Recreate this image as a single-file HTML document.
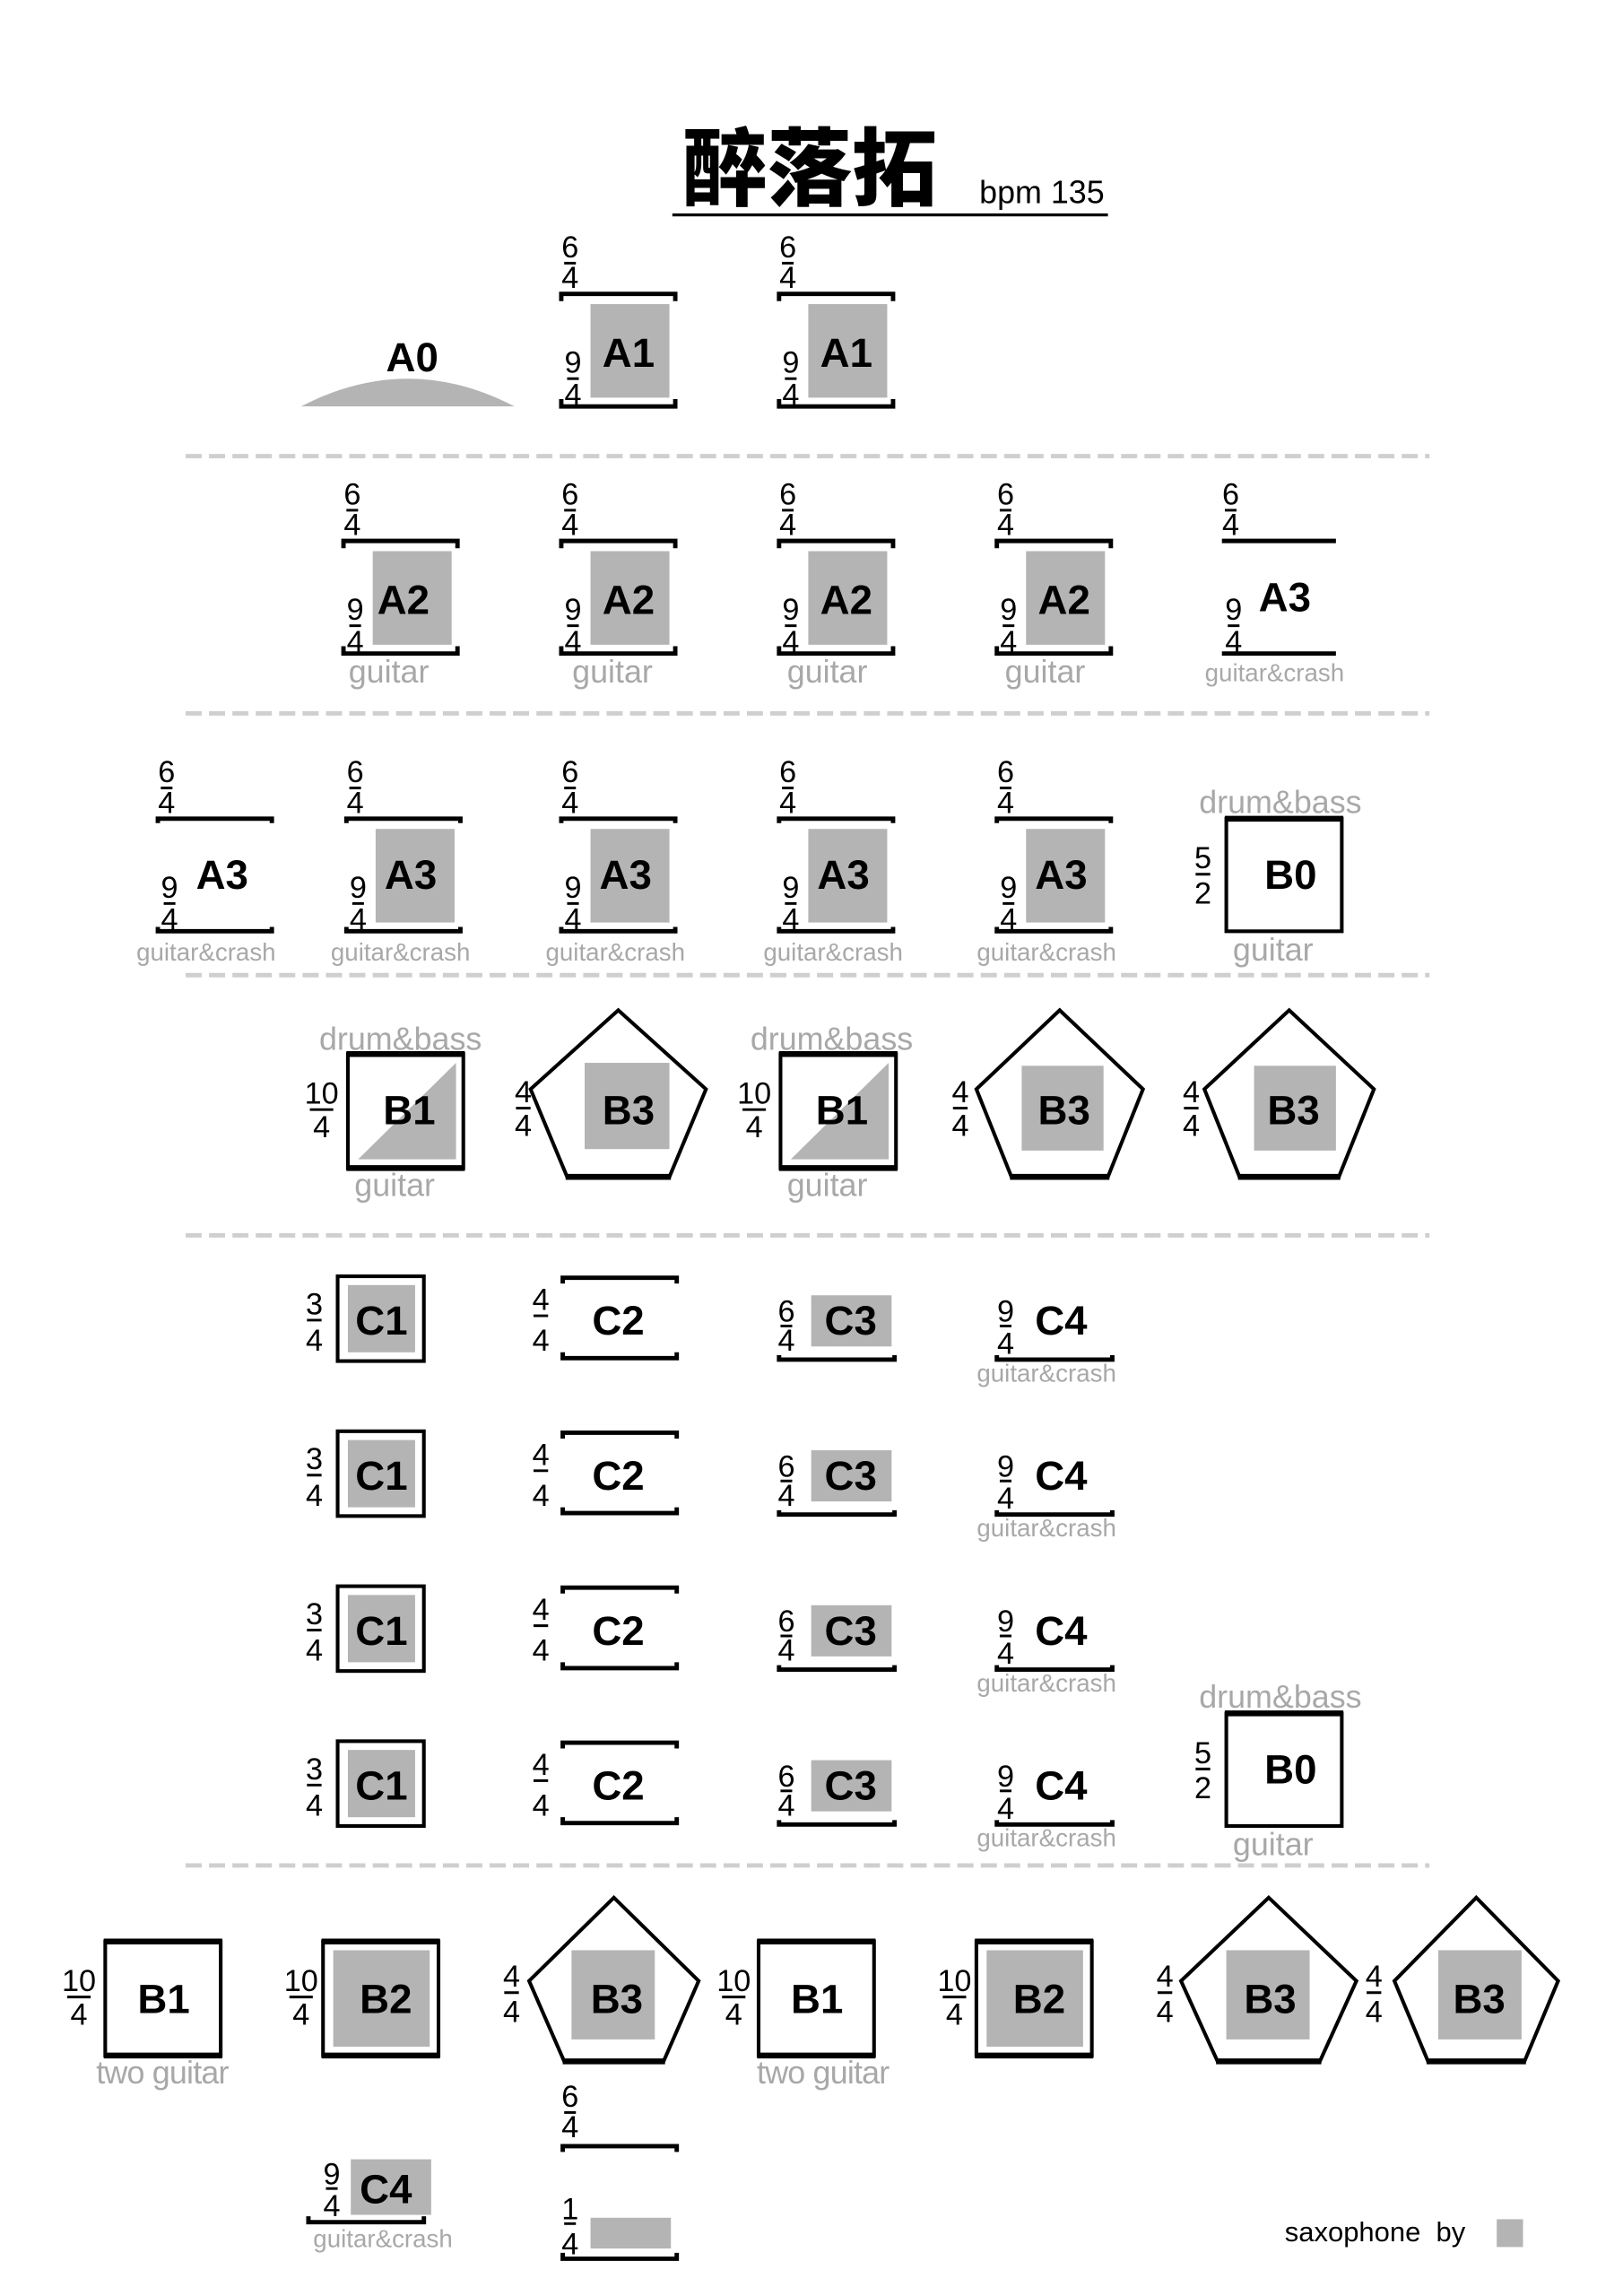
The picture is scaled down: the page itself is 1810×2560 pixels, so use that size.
<!DOCTYPE html>
<html><head><meta charset="utf-8"><style>
html,body{margin:0;padding:0;background:#fff}
svg{display:block}
.f{font-family:"Liberation Sans Narrow","Liberation Sans",sans-serif;font-size:21px;text-anchor:middle;fill:#000}
.fl{stroke:#000;stroke-width:1.8}
.L{font-family:"Liberation Sans Narrow","Liberation Sans",sans-serif;font-weight:bold;font-size:28px;text-anchor:middle;fill:#000}
.br{fill:none;stroke:#000;stroke-width:3}
.g{fill:#b4b4b4}
.s{font-family:"Liberation Sans Narrow","Liberation Sans",sans-serif;font-size:22px;text-anchor:middle;fill:#a8a8a8}
.s2{font-family:"Liberation Sans Narrow","Liberation Sans",sans-serif;font-size:17px;text-anchor:middle;fill:#a8a8a8}
.d{stroke:#cfcfcf;stroke-width:3;stroke-dasharray:11 5}
.bx{fill:#fff;stroke:#000;stroke-width:2.5}
</style></head><body>
<svg width="1810" height="2560" viewBox="0 0 1110.4 1570.5" xmlns="http://www.w3.org/2000/svg">
<rect width="1110.4" height="1570.5" fill="#fff"/>
<text x="554" y="136" style="font-family:'Noto Sans CJK SC',sans-serif;font-weight:900;font-size:58px;text-anchor:middle">醉落拓</text>
<text x="670" y="139" style="font-family:'Liberation Sans',sans-serif;font-size:22px">bpm 135</text>
<line x1="460" y1="147" x2="758" y2="147" stroke="#000" stroke-width="2"/>
<line class="d" x1="127" y1="312" x2="978" y2="312"/>
<line class="d" x1="127" y1="488" x2="978" y2="488"/>
<line class="d" x1="127" y1="667" x2="978" y2="667"/>
<line class="d" x1="127" y1="845" x2="978" y2="845"/>
<line class="d" x1="127" y1="1276" x2="978" y2="1276"/>

<path d="M206,278 Q279,240 352,278 Z" fill="#b4b4b4"/>
<text x="282" y="254" class="L">A0</text>

<g transform="translate(383,201)"><text x="7" y="-25" class="f">6</text><line x1="3" x2="11" y1="-21" y2="-21" class="fl"/><text x="7" y="-4" class="f">4</text><path d="M1,5V0H79V5" class="br"/><rect x="21" y="7" width="54" height="64" class="g"/><text x="47" y="50" class="L">A1</text><text x="9" y="54" class="f">9</text><line x1="5" x2="13" y1="58" y2="58" class="fl"/><text x="9" y="76" class="f">4</text><path d="M1,72V77H79V72" class="br"/></g>
<g transform="translate(532,201)"><text x="7" y="-25" class="f">6</text><line x1="3" x2="11" y1="-21" y2="-21" class="fl"/><text x="7" y="-4" class="f">4</text><path d="M1,5V0H79V5" class="br"/><rect x="21" y="7" width="54" height="64" class="g"/><text x="47" y="50" class="L">A1</text><text x="9" y="54" class="f">9</text><line x1="5" x2="13" y1="58" y2="58" class="fl"/><text x="9" y="76" class="f">4</text><path d="M1,72V77H79V72" class="br"/></g>

<g transform="translate(234,370)"><text x="7" y="-25" class="f">6</text><line x1="3" x2="11" y1="-21" y2="-21" class="fl"/><text x="7" y="-4" class="f">4</text><path d="M1,5V0H79V5" class="br"/><rect x="21" y="7" width="54" height="64" class="g"/><text x="42" y="50" class="L">A2</text><text x="9" y="54" class="f">9</text><line x1="5" x2="13" y1="58" y2="58" class="fl"/><text x="9" y="76" class="f">4</text><path d="M1,72V77H79V72" class="br"/><text x="32" y="97" class="s">guitar</text></g>
<g transform="translate(383,370)"><text x="7" y="-25" class="f">6</text><line x1="3" x2="11" y1="-21" y2="-21" class="fl"/><text x="7" y="-4" class="f">4</text><path d="M1,5V0H79V5" class="br"/><rect x="21" y="7" width="54" height="64" class="g"/><text x="47" y="50" class="L">A2</text><text x="9" y="54" class="f">9</text><line x1="5" x2="13" y1="58" y2="58" class="fl"/><text x="9" y="76" class="f">4</text><path d="M1,72V77H79V72" class="br"/><text x="36" y="97" class="s">guitar</text></g>
<g transform="translate(532,370)"><text x="7" y="-25" class="f">6</text><line x1="3" x2="11" y1="-21" y2="-21" class="fl"/><text x="7" y="-4" class="f">4</text><path d="M1,5V0H79V5" class="br"/><rect x="21" y="7" width="54" height="64" class="g"/><text x="47" y="50" class="L">A2</text><text x="9" y="54" class="f">9</text><line x1="5" x2="13" y1="58" y2="58" class="fl"/><text x="9" y="76" class="f">4</text><path d="M1,72V77H79V72" class="br"/><text x="34" y="97" class="s">guitar</text></g>
<g transform="translate(681,370)"><text x="7" y="-25" class="f">6</text><line x1="3" x2="11" y1="-21" y2="-21" class="fl"/><text x="7" y="-4" class="f">4</text><path d="M1,5V0H79V5" class="br"/><rect x="21" y="7" width="54" height="64" class="g"/><text x="47" y="50" class="L">A2</text><text x="9" y="54" class="f">9</text><line x1="5" x2="13" y1="58" y2="58" class="fl"/><text x="9" y="76" class="f">4</text><path d="M1,72V77H79V72" class="br"/><text x="34" y="97" class="s">guitar</text></g>
<g transform="translate(835,370)"><text x="7" y="-25" class="f">6</text><line x1="3" x2="11" y1="-21" y2="-21" class="fl"/><text x="7" y="-4" class="f">4</text><path d="M1,0H79" class="br"/><text x="44" y="48" class="L">A3</text><text x="9" y="54" class="f">9</text><line x1="5" x2="13" y1="58" y2="58" class="fl"/><text x="9" y="76" class="f">4</text><path d="M1,77H79" class="br"/><text x="37" y="96" class="s2">guitar&amp;crash</text></g>

<g transform="translate(107,560)"><text x="7" y="-25" class="f">6</text><line x1="3" x2="11" y1="-21" y2="-21" class="fl"/><text x="7" y="-4" class="f">4</text><path d="M1,3V0H79V3" class="br"/><text x="45" y="48" class="L">A3</text><text x="9" y="54" class="f">9</text><line x1="5" x2="13" y1="58" y2="58" class="fl"/><text x="9" y="76" class="f">4</text><path d="M1,74V77H79V74" class="br"/><text x="34" y="97" class="s2">guitar&amp;crash</text></g>
<g transform="translate(236,560)"><text x="7" y="-25" class="f">6</text><line x1="3" x2="11" y1="-21" y2="-21" class="fl"/><text x="7" y="-4" class="f">4</text><path d="M1,3V0H79V3" class="br"/><rect x="21" y="7" width="54" height="64" class="g"/><text x="45" y="48" class="L">A3</text><text x="9" y="54" class="f">9</text><line x1="5" x2="13" y1="58" y2="58" class="fl"/><text x="9" y="76" class="f">4</text><path d="M1,74V77H79V74" class="br"/><text x="38" y="97" class="s2">guitar&amp;crash</text></g>
<g transform="translate(383,560)"><text x="7" y="-25" class="f">6</text><line x1="3" x2="11" y1="-21" y2="-21" class="fl"/><text x="7" y="-4" class="f">4</text><path d="M1,3V0H79V3" class="br"/><rect x="21" y="7" width="54" height="64" class="g"/><text x="45" y="48" class="L">A3</text><text x="9" y="54" class="f">9</text><line x1="5" x2="13" y1="58" y2="58" class="fl"/><text x="9" y="76" class="f">4</text><path d="M1,74V77H79V74" class="br"/><text x="38" y="97" class="s2">guitar&amp;crash</text></g>
<g transform="translate(532,560)"><text x="7" y="-25" class="f">6</text><line x1="3" x2="11" y1="-21" y2="-21" class="fl"/><text x="7" y="-4" class="f">4</text><path d="M1,3V0H79V3" class="br"/><rect x="21" y="7" width="54" height="64" class="g"/><text x="45" y="48" class="L">A3</text><text x="9" y="54" class="f">9</text><line x1="5" x2="13" y1="58" y2="58" class="fl"/><text x="9" y="76" class="f">4</text><path d="M1,74V77H79V74" class="br"/><text x="38" y="97" class="s2">guitar&amp;crash</text></g>
<g transform="translate(681,560)"><text x="7" y="-25" class="f">6</text><line x1="3" x2="11" y1="-21" y2="-21" class="fl"/><text x="7" y="-4" class="f">4</text><path d="M1,3V0H79V3" class="br"/><rect x="21" y="7" width="54" height="64" class="g"/><text x="45" y="48" class="L">A3</text><text x="9" y="54" class="f">9</text><line x1="5" x2="13" y1="58" y2="58" class="fl"/><text x="9" y="76" class="f">4</text><path d="M1,74V77H79V74" class="br"/><text x="35" y="97" class="s2">guitar&amp;crash</text></g>

<g transform="translate(839,560)"><text x="37" y="-4" class="s">drum&amp;bass</text><rect x="0" y="0" width="79" height="77" class="bx"/><line x1="-1" x2="80" y1="0" y2="0" stroke="#000" stroke-width="4"/><text x="-16" y="34" class="f">5</text><line x1="-21" x2="-11" y1="38" y2="38" class="fl"/><text x="-16" y="58" class="f">2</text><text x="44" y="48" class="L">B0</text><text x="32" y="97" class="s">guitar</text></g>
<g transform="translate(839,1172)"><text x="37" y="-4" class="s">drum&amp;bass</text><rect x="0" y="0" width="79" height="77" class="bx"/><line x1="-1" x2="80" y1="0" y2="0" stroke="#000" stroke-width="4"/><text x="-16" y="34" class="f">5</text><line x1="-21" x2="-11" y1="38" y2="38" class="fl"/><text x="-16" y="58" class="f">2</text><text x="44" y="48" class="L">B0</text><text x="32" y="97" class="s">guitar</text></g>

<g transform="translate(238,721)"><text x="36" y="-3" class="s">drum&amp;bass</text><rect x="0" y="0" width="79" height="78" class="bx"/><line x1="-1" x2="80" y1="0" y2="0" stroke="#000" stroke-width="4"/><line x1="-1" x2="80" y1="78" y2="78" stroke="#000" stroke-width="4"/><polygon points="7,72 74,6 74,72" class="g"/><text x="42" y="48" class="L">B1</text><text x="-18" y="34" class="f">10</text><line x1="-26" x2="-10" y1="38" y2="38" class="fl"/><text x="-18" y="57" class="f">4</text><text x="32" y="97" class="s">guitar</text></g>
<g transform="translate(534,721)"><text x="35" y="-3" class="s">drum&amp;bass</text><rect x="0" y="0" width="79" height="78" class="bx"/><line x1="-1" x2="80" y1="0" y2="0" stroke="#000" stroke-width="4"/><line x1="-1" x2="80" y1="78" y2="78" stroke="#000" stroke-width="4"/><polygon points="7,72 74,6 74,72" class="g"/><text x="42" y="48" class="L">B1</text><text x="-18" y="34" class="f">10</text><line x1="-26" x2="-10" y1="38" y2="38" class="fl"/><text x="-18" y="57" class="f">4</text><text x="32" y="97" class="s">guitar</text></g>
<g transform="translate(423,691)"><polygon points="0,0 60,54 35,114 -35,114 -60,54" fill="#fff" stroke="#000" stroke-width="2.5"/><line x1="-36" x2="36" y1="114" y2="114" stroke="#000" stroke-width="4"/><rect x="-23" y="36" width="58" height="59" class="g"/><text x="7" y="78" class="L">B3</text><text x="-65" y="63" class="f">4</text><line x1="-70" x2="-60" y1="67" y2="67" class="fl"/><text x="-65" y="86" class="f">4</text></g>
<g transform="translate(725,691)"><polygon points="0,0 57,54 33,114 -33,114 -57,54" fill="#fff" stroke="#000" stroke-width="2.5"/><line x1="-34" x2="34" y1="114" y2="114" stroke="#000" stroke-width="4"/><rect x="-26" y="38" width="56" height="58" class="g"/><text x="3" y="78" class="L">B3</text><text x="-68" y="63" class="f">4</text><line x1="-73" x2="-63" y1="67" y2="67" class="fl"/><text x="-68" y="86" class="f">4</text></g>
<g transform="translate(882,691)"><polygon points="0,0 58,54 34,114 -34,114 -58,54" fill="#fff" stroke="#000" stroke-width="2.5"/><line x1="-35" x2="35" y1="114" y2="114" stroke="#000" stroke-width="4"/><rect x="-24" y="38" width="56" height="58" class="g"/><text x="3" y="78" class="L">B3</text><text x="-67" y="63" class="f">4</text><line x1="-72" x2="-62" y1="67" y2="67" class="fl"/><text x="-67" y="86" class="f">4</text></g>

<g transform="translate(0,873)">
<rect x="231" y="0" width="59" height="58" class="bx"/><rect x="238" y="6" width="46" height="46" class="g"/><text x="261" y="40" class="L">C1</text><text x="215" y="26" class="f">3</text><line x1="210" x2="220" y1="30" y2="30" class="fl"/><text x="215" y="51" class="f">4</text>
<path d="M385,5V1H463V5M385,52V56H463V52" class="br"/><text x="423" y="40" class="L">C2</text><text x="370" y="23" class="f">4</text><line x1="365" x2="375" y1="27" y2="27" class="fl"/><text x="370" y="51" class="f">4</text>
<rect x="555" y="13" width="55" height="35" class="g"/><text x="582" y="40" class="L">C3</text><text x="538" y="31" class="f">6</text><line x1="534" x2="542" y1="34" y2="34" class="fl"/><text x="538" y="51" class="f">4</text><path d="M533,54V57H612V54" class="br"/>
<text x="726" y="40" class="L">C4</text><text x="688" y="31" class="f">9</text><line x1="684" x2="692" y1="34" y2="34" class="fl"/><text x="688" y="53" class="f">4</text><path d="M682,54V57H761V54" class="br"/><text x="716" y="72" class="s2">guitar&amp;crash</text>
</g>
<g transform="translate(0,979)">
<rect x="231" y="0" width="59" height="58" class="bx"/><rect x="238" y="6" width="46" height="46" class="g"/><text x="261" y="40" class="L">C1</text><text x="215" y="26" class="f">3</text><line x1="210" x2="220" y1="30" y2="30" class="fl"/><text x="215" y="51" class="f">4</text>
<path d="M385,5V1H463V5M385,52V56H463V52" class="br"/><text x="423" y="40" class="L">C2</text><text x="370" y="23" class="f">4</text><line x1="365" x2="375" y1="27" y2="27" class="fl"/><text x="370" y="51" class="f">4</text>
<rect x="555" y="13" width="55" height="35" class="g"/><text x="582" y="40" class="L">C3</text><text x="538" y="31" class="f">6</text><line x1="534" x2="542" y1="34" y2="34" class="fl"/><text x="538" y="51" class="f">4</text><path d="M533,54V57H612V54" class="br"/>
<text x="726" y="40" class="L">C4</text><text x="688" y="31" class="f">9</text><line x1="684" x2="692" y1="34" y2="34" class="fl"/><text x="688" y="53" class="f">4</text><path d="M682,54V57H761V54" class="br"/><text x="716" y="72" class="s2">guitar&amp;crash</text>
</g>
<g transform="translate(0,1085)">
<rect x="231" y="0" width="59" height="58" class="bx"/><rect x="238" y="6" width="46" height="46" class="g"/><text x="261" y="40" class="L">C1</text><text x="215" y="26" class="f">3</text><line x1="210" x2="220" y1="30" y2="30" class="fl"/><text x="215" y="51" class="f">4</text>
<path d="M385,5V1H463V5M385,52V56H463V52" class="br"/><text x="423" y="40" class="L">C2</text><text x="370" y="23" class="f">4</text><line x1="365" x2="375" y1="27" y2="27" class="fl"/><text x="370" y="51" class="f">4</text>
<rect x="555" y="13" width="55" height="35" class="g"/><text x="582" y="40" class="L">C3</text><text x="538" y="31" class="f">6</text><line x1="534" x2="542" y1="34" y2="34" class="fl"/><text x="538" y="51" class="f">4</text><path d="M533,54V57H612V54" class="br"/>
<text x="726" y="40" class="L">C4</text><text x="688" y="31" class="f">9</text><line x1="684" x2="692" y1="34" y2="34" class="fl"/><text x="688" y="53" class="f">4</text><path d="M682,54V57H761V54" class="br"/><text x="716" y="72" class="s2">guitar&amp;crash</text>
</g>
<g transform="translate(0,1191)">
<rect x="231" y="0" width="59" height="58" class="bx"/><rect x="238" y="6" width="46" height="46" class="g"/><text x="261" y="40" class="L">C1</text><text x="215" y="26" class="f">3</text><line x1="210" x2="220" y1="30" y2="30" class="fl"/><text x="215" y="51" class="f">4</text>
<path d="M385,5V1H463V5M385,52V56H463V52" class="br"/><text x="423" y="40" class="L">C2</text><text x="370" y="23" class="f">4</text><line x1="365" x2="375" y1="27" y2="27" class="fl"/><text x="370" y="51" class="f">4</text>
<rect x="555" y="13" width="55" height="35" class="g"/><text x="582" y="40" class="L">C3</text><text x="538" y="31" class="f">6</text><line x1="534" x2="542" y1="34" y2="34" class="fl"/><text x="538" y="51" class="f">4</text><path d="M533,54V57H612V54" class="br"/>
<text x="726" y="40" class="L">C4</text><text x="688" y="31" class="f">9</text><line x1="684" x2="692" y1="34" y2="34" class="fl"/><text x="688" y="53" class="f">4</text><path d="M682,54V57H761V54" class="br"/><text x="716" y="72" class="s2">guitar&amp;crash</text>
</g>

<g transform="translate(72,1328)"><rect x="0" y="0" width="79" height="78" class="bx"/><line x1="-1" x2="80" y1="0" y2="0" stroke="#000" stroke-width="4"/><line x1="-1" x2="80" y1="78" y2="78" stroke="#000" stroke-width="4"/><text x="40" y="49" class="L">B1</text><text x="-18" y="34" class="f">10</text><line x1="-26" x2="-10" y1="38" y2="38" class="fl"/><text x="-18" y="57" class="f">4</text><text x="39" y="97" class="s" style="letter-spacing:-0.5px">two guitar</text></g>
<g transform="translate(221,1328)"><rect x="0" y="0" width="79" height="78" class="bx"/><line x1="-1" x2="80" y1="0" y2="0" stroke="#000" stroke-width="4"/><line x1="-1" x2="80" y1="78" y2="78" stroke="#000" stroke-width="4"/><rect x="7" y="6" width="66" height="66" class="g"/><text x="43" y="49" class="L">B2</text><text x="-15" y="34" class="f">10</text><line x1="-23" x2="-7" y1="38" y2="38" class="fl"/><text x="-15" y="57" class="f">4</text></g>
<g transform="translate(519,1328)"><rect x="0" y="0" width="79" height="78" class="bx"/><line x1="-1" x2="80" y1="0" y2="0" stroke="#000" stroke-width="4"/><line x1="-1" x2="80" y1="78" y2="78" stroke="#000" stroke-width="4"/><text x="40" y="49" class="L">B1</text><text x="-17" y="34" class="f">10</text><line x1="-25" x2="-9" y1="38" y2="38" class="fl"/><text x="-17" y="57" class="f">4</text><text x="44" y="97" class="s" style="letter-spacing:-0.5px">two guitar</text></g>
<g transform="translate(668,1328)"><rect x="0" y="0" width="79" height="78" class="bx"/><line x1="-1" x2="80" y1="0" y2="0" stroke="#000" stroke-width="4"/><line x1="-1" x2="80" y1="78" y2="78" stroke="#000" stroke-width="4"/><rect x="7" y="6" width="66" height="66" class="g"/><text x="43" y="49" class="L">B2</text><text x="-15" y="34" class="f">10</text><line x1="-23" x2="-7" y1="38" y2="38" class="fl"/><text x="-15" y="57" class="f">4</text></g>
<g transform="translate(420,1298)"><polygon points="0,0 58,57 34,112 -34,112 -58,57" fill="#fff" stroke="#000" stroke-width="2.5"/><line x1="-35" x2="35" y1="112" y2="112" stroke="#000" stroke-width="4"/><rect x="-29" y="36" width="57" height="61" class="g"/><text x="2" y="79" class="L">B3</text><text x="-70" y="61" class="f">4</text><line x1="-75" x2="-65" y1="65" y2="65" class="fl"/><text x="-70" y="85" class="f">4</text></g>
<g transform="translate(868,1298)"><polygon points="0,0 60,57 35,112 -35,112 -60,57" fill="#fff" stroke="#000" stroke-width="2.5"/><line x1="-36" x2="36" y1="112" y2="112" stroke="#000" stroke-width="4"/><rect x="-29" y="36" width="57" height="61" class="g"/><text x="1" y="79" class="L">B3</text><text x="-71" y="61" class="f">4</text><line x1="-76" x2="-66" y1="65" y2="65" class="fl"/><text x="-71" y="85" class="f">4</text></g>
<g transform="translate(1010,1298)"><polygon points="0,0 56,57 33,112 -33,112 -56,57" fill="#fff" stroke="#000" stroke-width="2.5"/><line x1="-34" x2="34" y1="112" y2="112" stroke="#000" stroke-width="4"/><rect x="-26" y="36" width="57" height="61" class="g"/><text x="2" y="79" class="L">B3</text><text x="-70" y="61" class="f">4</text><line x1="-75" x2="-65" y1="65" y2="65" class="fl"/><text x="-70" y="85" class="f">4</text></g>

<rect x="240" y="1477" width="55" height="38" class="g"/><text x="264" y="1507" class="L">C4</text><text x="227" y="1494" class="f">9</text><line x1="223" x2="231" y1="1497" y2="1497" class="fl"/><text x="227" y="1516" class="f">4</text><path d="M211,1516V1520H290V1516" class="br"/><text x="262" y="1537" class="s2">guitar&amp;crash</text>
<text x="390" y="1441" class="f">6</text><line x1="386" x2="394" y1="1445" y2="1445" class="fl"/><text x="390" y="1462" class="f">4</text><path d="M385,1472V1468H463V1472" class="br"/>
<text x="390" y="1518" class="f">1</text><line x1="386" x2="394" y1="1521" y2="1521" class="fl"/><text x="390" y="1542" class="f">4</text><rect x="404" y="1517" width="55" height="21" class="g"/><path d="M385,1541V1545H463V1541" class="br"/>
<text x="879" y="1533" style="font-family:'Liberation Sans',sans-serif;font-size:19px">saxophone&#160;&#160;by</text>
<rect x="1024" y="1518" width="18" height="19" class="g"/>
</svg>
</body></html>
